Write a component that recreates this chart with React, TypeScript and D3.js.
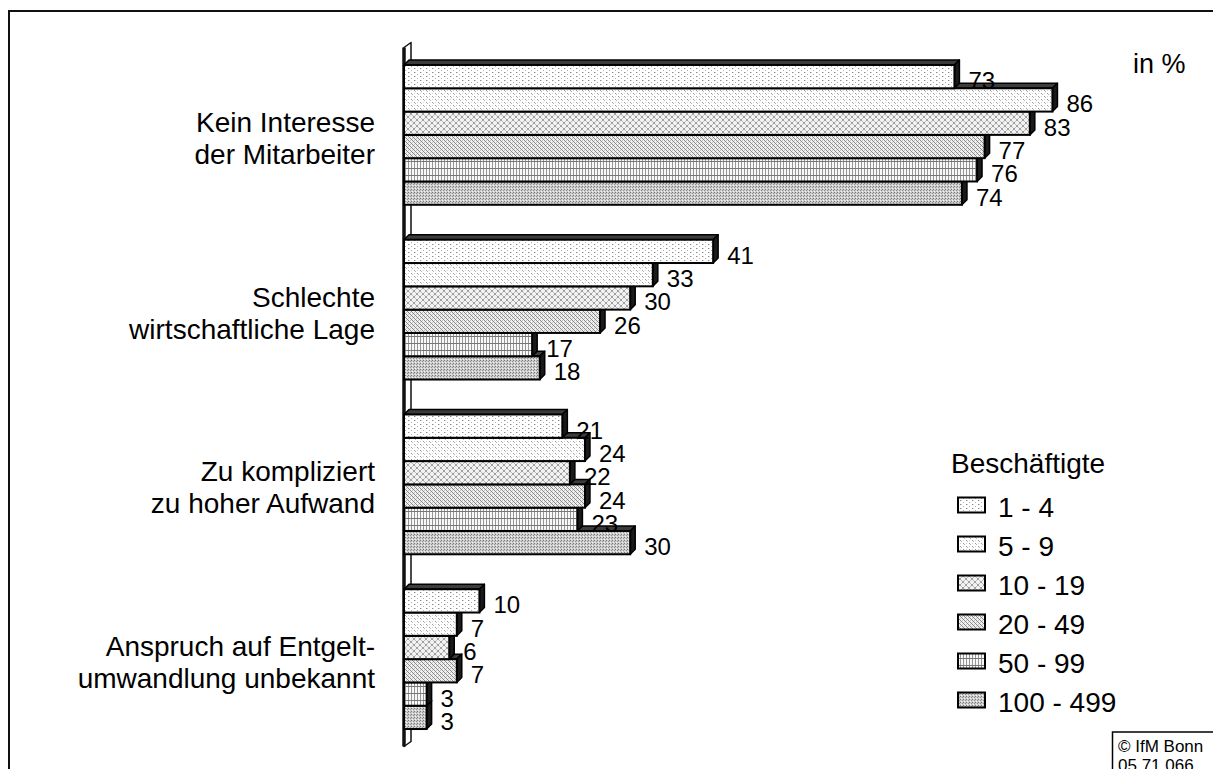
import React from 'react';
import * as d3 from 'd3';

const categoryLines: string[][] = [
  ['Kein Interesse', 'der Mitarbeiter'],
  ['Schlechte', 'wirtschaftliche Lage'],
  ['Zu kompliziert', 'zu hoher Aufwand'],
  ['Anspruch auf Entgelt-', 'umwandlung unbekannt'],
];
const categoryKeys = ['kein', 'schlecht', 'kompliziert', 'anspruch'];
const seriesNames = ['1 - 4', '5 - 9', '10 - 19', '20 - 49', '50 - 99', '100 - 499'];
const s1to4 = [73, 41, 21, 10];
const s5to9 = [86, 33, 24, 7];
const s10to19 = [83, 30, 22, 6];
const s20to49 = [77, 26, 24, 7];
const s50to99 = [76, 17, 23, 3];
const s100to499 = [74, 18, 30, 3];
const seriesValues = [s1to4, s5to9, s10to19, s20to49, s50to99, s100to499];
const unitLabel = 'in %';
const legendTitle = 'Beschäftigte';
const creditLines = ['© IfM Bonn', '05 71 066'];

const FONT = "'Liberation Sans', Arial, sans-serif";
const DX = 5;
const DY = -5;

function Patterns() {
  return (
    <defs>
      {/* 1 - 4 : sparse dots */}
      <pattern id="p0" width="6" height="4" patternUnits="userSpaceOnUse">
        <rect width="6" height="4" fill="#fff" />
        <rect x="0" y="0" width="1" height="1" fill="#8a8a8a" />
        <rect x="3" y="2" width="1" height="1" fill="#b0b0b0" />
        <rect x="1" y="0" width="1" height="1" fill="#d0d0d0" />
      </pattern>
      {/* 5 - 9 : diagonal dotted */}
      <pattern id="p1" width="6" height="6" patternUnits="userSpaceOnUse">
        <rect width="6" height="6" fill="#fff" />
        <rect x="0" y="0" width="1" height="1" fill="#9a9a9a" />
        <rect x="1" y="1" width="1" height="1" fill="#b5b5b5" />
        <rect x="3" y="3" width="1" height="1" fill="#9a9a9a" />
        <rect x="4" y="4" width="1" height="1" fill="#b5b5b5" />
        <rect x="3" y="0" width="1" height="1" fill="#d5d5d5" />
        <rect x="0" y="3" width="1" height="1" fill="#d5d5d5" />
      </pattern>
      {/* 10 - 19 : rings */}
      <pattern id="p2" width="6" height="6" patternUnits="userSpaceOnUse">
        <rect width="6" height="6" fill="#f2f2f2" />
        <rect x="2" y="0" width="2" height="1" fill="#a0a0a0" />
        <rect x="0" y="2" width="1" height="2" fill="#a0a0a0" />
        <rect x="5" y="2" width="1" height="2" fill="#a0a0a0" />
        <rect x="2" y="5" width="2" height="1" fill="#a0a0a0" />
        <rect x="1" y="1" width="1" height="1" fill="#bcbcbc" />
        <rect x="4" y="1" width="1" height="1" fill="#bcbcbc" />
        <rect x="1" y="4" width="1" height="1" fill="#bcbcbc" />
        <rect x="4" y="4" width="1" height="1" fill="#bcbcbc" />
      </pattern>
      {/* 20 - 49 : dense back-diagonals */}
      <pattern id="p3" width="4" height="4" patternUnits="userSpaceOnUse">
        <rect width="4" height="4" fill="#f0f0f0" />
        <rect x="0" y="0" width="1" height="1" fill="#888" />
        <rect x="1" y="1" width="1" height="1" fill="#888" />
        <rect x="2" y="2" width="1" height="1" fill="#888" />
        <rect x="3" y="3" width="1" height="1" fill="#888" />
        <rect x="2" y="0" width="1" height="1" fill="#c4c4c4" />
        <rect x="0" y="2" width="1" height="1" fill="#c4c4c4" />
      </pattern>
      {/* 50 - 99 : grid with vertical lines */}
      <pattern id="p4" width="3" height="7" patternUnits="userSpaceOnUse">
        <rect width="3" height="7" fill="#f8f8f8" />
        <rect x="0" y="0" width="1" height="7" fill="#969696" />
        <rect x="0" y="0" width="3" height="1" fill="#777" />
      </pattern>
      {/* 100 - 499 : dense dots, darker */}
      <pattern id="p5" width="3" height="3" patternUnits="userSpaceOnUse">
        <rect width="3" height="3" fill="#cccccc" />
        <rect x="0" y="0" width="1" height="1" fill="#777" />
        <rect x="2" y="1" width="1" height="1" fill="#939393" />
        <rect x="1" y="2" width="1" height="1" fill="#f4f4f4" />
      </pattern>
    </defs>
  );
}

export default function App() {
  const width = 1213;
  const height = 769;

  const x = d3.scaleLinear().domain([0, 100]).range([404, 1158]);
  const y = d3
    .scaleBand<string>()
    .domain(categoryKeys)
    .range([47.5, 746.5])
    .paddingInner(0.2)
    .paddingOuter(0.1);
  const ys = d3.scaleBand<string>().domain(seriesNames).range([0, y.bandwidth()]);
  const h = ys.bandwidth();
  const x0 = x(0);
  const [wallTop, wallBottom] = y.range();
  const wallDepth = 7;

  const legendX = 958;
  const legendY0 = 505;
  const legendStep = 39;

  return (
    <svg
      width={width}
      height={height}
      style={{ position: 'absolute', left: 0, top: 0, background: '#fff' }}
      fontFamily={FONT}
    >
      <Patterns />
      <rect x={0} y={0} width={width} height={height} fill="#fff" />
      {/* outer frame */}
      <rect x={9} y={11} width={1400} height={1000} fill="none" stroke="#111" strokeWidth={2} />

      {/* wall */}
      <polygon
        points={`${x0},${wallTop} ${x0 + wallDepth},${wallTop - 5} ${x0 + wallDepth},${wallBottom - 5} ${x0},${wallBottom}`}
        fill="#fff"
        stroke="#111"
        strokeWidth={1.5}
        strokeLinejoin="round"
      />
      <line x1={x0} y1={wallTop} x2={x0} y2={wallBottom} stroke="#111" strokeWidth={3.5} />

      {/* bars */}
      {categoryKeys.map((key, ci) => {
        const gy = y(key)!;
        const order = seriesNames.map((_, i) => i).reverse();
        return (
          <g key={key}>
            {order.map((si) => {
              const v = seriesValues[si][ci];
              const by = gy + ys(seriesNames[si])!;
              const bx = x(v);
              const top = `${x0},${by} ${x0 + DX},${by + DY} ${bx + DX},${by + DY} ${bx},${by}`;
              const side = `${bx},${by} ${bx + DX},${by + DY} ${bx + DX},${by + h + DY} ${bx},${by + h}`;
              return (
                <g key={si}>
                  <polygon points={top} fill="#3c3c3c" stroke="#000" strokeWidth={1.5} strokeLinejoin="round" />
                  <polygon points={side} fill="#1a1a1a" stroke="#000" strokeWidth={1.5} strokeLinejoin="round" />
                  <rect
                    x={x0}
                    y={by}
                    width={bx - x0}
                    height={h}
                    fill={`url(#p${si})`}
                    stroke="#000"
                    strokeWidth={2}
                  />
                </g>
              );
            })}
            {seriesNames.map((name, si) => {
              const v = seriesValues[si][ci];
              const by = gy + ys(name)! + h / 2;
              return (
                <text
                  key={name}
                  x={x(v) + DX + 9}
                  y={by + 4}
                  fontSize={24}
                  dominantBaseline="central"
                  fill="#000"
                >
                  {v}
                </text>
              );
            })}
          </g>
        );
      })}

      {/* category labels */}
      {categoryKeys.map((key, ci) => {
        const c = y(key)! + y.bandwidth() / 2;
        return (
          <text key={key} x={375} textAnchor="end" fontSize={28} fill="#000">
            <tspan x={375} y={c - 3}>
              {categoryLines[ci][0]}
            </tspan>
            <tspan x={375} y={c + 29}>
              {categoryLines[ci][1]}
            </tspan>
          </text>
        );
      })}

      {/* unit */}
      <text x={1133} y={73} fontSize={27} fill="#000">
        {unitLabel}
      </text>

      {/* legend */}
      <text x={951} y={473} fontSize={28} fill="#000">
        {legendTitle}
      </text>
      {seriesNames.map((name, si) => {
        const cy = legendY0 + si * legendStep;
        return (
          <g key={name}>
            <rect
              x={legendX}
              y={cy - 7.5}
              width={27}
              height={15}
              fill={`url(#p${si})`}
              stroke="#000"
              strokeWidth={2}
            />
            <text x={998} y={cy + 2} fontSize={28} dominantBaseline="central" fill="#000">
              {name}
            </text>
          </g>
        );
      })}

      {/* credit box */}
      <rect x={1112.5} y={732} width={200} height={100} fill="#fff" stroke="#000" strokeWidth={1.5} />
      {creditLines.map((t, i) => (
        <text key={i} x={1118} y={752 + i * 19} fontSize={17} fill="#000">
          {t}
        </text>
      ))}
    </svg>
  );
}
